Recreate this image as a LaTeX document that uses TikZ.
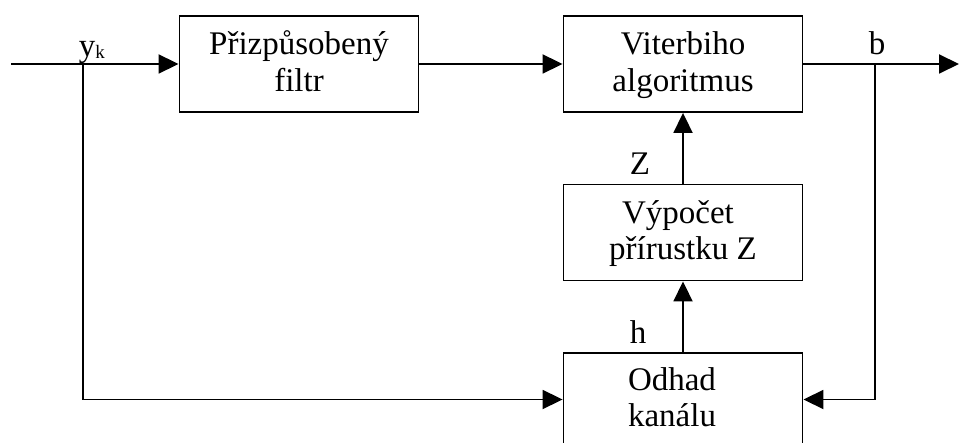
\documentclass[tikz,border=0pt]{standalone}
\usepackage{fontspec}
\setmainfont{Liberation Serif}
\usetikzlibrary{arrows.meta}
% strut giving every box line the same height and depth
\newcommand{\boxstrut}{\rule[-9pt]{0pt}{36pt}}
\begin{document}
\begin{tikzpicture}[x=1pt, y=-1pt, line width=1.9pt,
  txt/.style={font=\fontsize{33}{36.5}\selectfont},
  block/.style={txt, draw, line width=1.9pt, minimum width=239pt,
    minimum height=96pt, inner sep=0pt, align=center},
  flow/.style={-{Triangle[length=20pt,width=19pt]}},
  lab/.style={txt, inner sep=0pt, anchor=base}]
\useasboundingbox (0,0) rectangle (960,443);
\clip (0,0) rectangle (960,443);

% blocks
\node[block] (filter)  at (299,64)    {\boxstrut Přizpůsobený\\\boxstrut filtr};
\node[block] (viterbi) at (683,64)    {\boxstrut Viterbiho\\\boxstrut algoritmus};
\node[block] (vypocet) at (683,232.5) {\boxstrut Výpočet\hspace*{10pt}\\\boxstrut přírustku Z};
\node[block, minimum height=93pt] (odhad) at (683,399.5)
  {\boxstrut Odhad\hspace*{22pt}\\\boxstrut kanálu\hspace*{22pt}};

% free ends and branch points
\coordinate (in)  at (11,64);
\coordinate (yk)  at (82.7,64);
\coordinate (out) at (959,64);
\coordinate (bb)  at (875,64);

% connectors
\draw[flow] (in) -- (filter);
\draw[flow] (filter) -- (viterbi);
\draw[flow] (viterbi) -- (out);
\draw[flow] (yk) |- (odhad);
\draw[flow] (bb) |- (odhad);
\draw[flow] (vypocet) -- (viterbi);
\draw[flow] (odhad) -- (vypocet);

% signal labels
\node[lab, anchor=base west] (lyk) at (78,57)
  {y\raisebox{-2pt}{\fontsize{19}{19}\selectfont k}};
\node[lab] (lb) at (877,55) {b};
\node[lab] (lz) at (640,175) {Z};
\node[lab] (lh) at (638,343) {h};
\end{tikzpicture}
\end{document}
